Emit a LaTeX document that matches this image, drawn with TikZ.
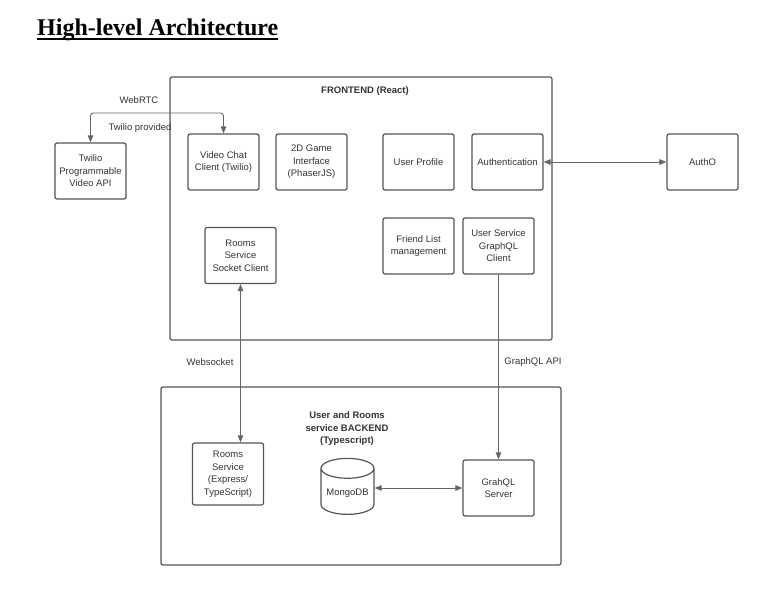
\documentclass[tikz,border=0pt]{standalone}
\usepackage{fontspec}
\setmainfont{Liberation Sans}
\newfontfamily\titlefont{Liberation Serif}
\usepackage{xcolor}
\usetikzlibrary{arrows.meta,shapes.geometric}

\definecolor{boxline}{HTML}{555555}
\definecolor{wireline}{HTML}{666666}
\definecolor{labeltext}{HTML}{333333}

\begin{document}
\begin{tikzpicture}[x=1pt, y=-1pt,
    block/.style={draw=boxline, line width=1.2pt, rounded corners=2pt, minimum width=71pt, minimum height=56pt, align=center, inner sep=1pt, text=labeltext, font=\fontsize{9.5}{12.5}\selectfont},
    group/.style={draw=boxline, line width=1.2pt, rounded corners=2pt, inner sep=0pt},
    wire/.style={draw=wireline, line width=0.9pt, rounded corners=3pt},
    tip/.style={-{Triangle[length=7pt,width=5.5pt]}},
    tips/.style={{Triangle[length=7pt,width=5.5pt]}-{Triangle[length=7pt,width=5.5pt]}},
    lbl/.style={text=labeltext, font=\fontsize{9.5}{12.5}\selectfont, inner sep=1pt},
    hdr/.style={text=labeltext, font=\fontsize{9.5}{12.5}\selectfont\bfseries, align=center, inner sep=1pt}]
\useasboundingbox (0,0) rectangle (769,591);
%%%%% Title %%%%%
\node[anchor=base west, inner sep=0pt, font=\titlefont\fontsize{24}{28}\selectfont\bfseries] (title) at (37,36) {High-level Architecture};
\draw[line width=2.2pt] (title.west |- 0,39) -- (title.east |- 0,39);
%%%%% Frontend %%%%%
\node[group, minimum width=382pt, minimum height=263pt] (front) at (361,208.5) {};
\node[hdr] (fronthdr) at (365,91) {FRONTEND (React)};
\node[block] (video) at (223.5,162) {Video Chat\\Client (Twilio)};
\node[block] (game) at (311.5,162) {2D Game\\Interface\\(PhaserJS)};
\node[block] (profile) at (418.5,162) {User Profile};
\node[block] (auth) at (507.5,162) {Authentication};
\node[block] (socket) at (240.5,255.5) {Rooms\\Service\\Socket Client};
\node[block] (friends) at (418.5,246) {Friend List\\management};
\node[block] (gqlclient) at (498.5,246) {User Service\\GraphQL\\Client};
%%%%% Outside %%%%%
\node[block] (twilio) at (90.5,171) {Twilio\\Programmable\\Video API};
\node[block] (autho) at (702.5,162) {AuthO};
%%%%% Backend %%%%%
\node[group, minimum width=400pt, minimum height=178pt] (back) at (361,476) {};
\node[hdr] (backhdr) at (347,429) {User and Rooms\\service BACKEND\\(Typescript)};
\node[block, minimum height=62pt] (rooms) at (228,474) {Rooms\\Service\\(Express/\\TypeScript)};
\node[draw=boxline, line width=1.2pt, cylinder, shape border rotate=90, shape aspect=0.45, minimum width=53pt, minimum height=56pt, inner sep=1pt, text=labeltext, font=\fontsize{9.5}{12.5}\selectfont] (mongo) at (347.5,493) {MongoDB};
\node[block] (gqlserver) at (498.5,488) {GrahQL\\Server};
%%%%% Connectors %%%%%
\draw[wire, tips] (twilio.north) -- (twilio.north |- 0,113) -- (video.north |- 0,113) -- (video.north);
\node[lbl] (webrtc) at (139,100) {WebRTC};
\node[lbl] (provided) at (140,128) {Twilio provided};
\draw[wire, tips] (auth.east) -- (autho.west);
\draw[wire, tips] (rooms.north -| socket.south) -- (socket.south);
\node[lbl] (websocket) at (210,362) {Websocket};
\draw[wire, tip] (gqlclient.south) -- (gqlserver.north);
\node[lbl] (gqlapi) at (533,362) {GraphQL API};
\draw[wire, tips] (gqlserver.west -| mongo.east) -- (gqlserver.west);
\end{tikzpicture}
\end{document}
